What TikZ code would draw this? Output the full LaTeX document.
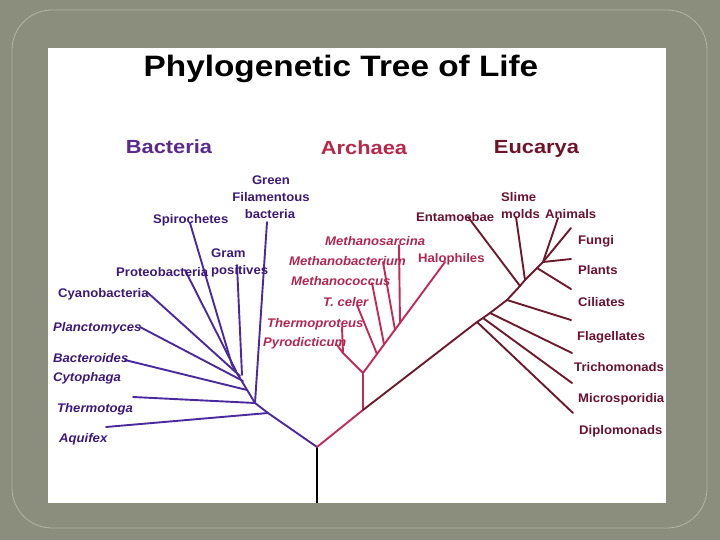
\documentclass[tikz,border=0pt]{standalone}
\usepackage{fontspec}
\setmainfont{Liberation Sans}
\newfontfamily\labfont{Liberation Sans}[FakeStretch=1.05]
\newfontfamily\headfont{Liberation Sans}[FakeStretch=1.15]
\newfontfamily\titfont{Liberation Sans}[FakeStretch=1.13]
\definecolor{bgc}{HTML}{8B8D7D}
\definecolor{framec}{HTML}{B4B6A4}
\definecolor{bact}{HTML}{3D1A78}
\definecolor{bacl}{HTML}{4A2A9E}
\definecolor{bach}{HTML}{5A2A8C}
\definecolor{arct}{HTML}{B02850}
\definecolor{arcl}{HTML}{C22A58}
\definecolor{arch}{HTML}{B8284A}
\definecolor{euct}{HTML}{6A1230}
\definecolor{eucl}{HTML}{6E1A2E}
\definecolor{euch}{HTML}{6E1428}
\tikzset{
  lab/.style={inner sep=0pt, text height=9pt, text depth=0pt, anchor=west, font=\labfont\fontsize{12.5}{14}\selectfont\bfseries},
  ilab/.style={lab, font=\labfont\fontsize{12.5}{14}\selectfont\bfseries\itshape},
  bactext/.style={text=bact}, arctext/.style={text=arct}, euctext/.style={text=euct},
  head/.style={inner sep=0pt, text height=13.6pt, text depth=0pt, font=\headfont\fontsize{19}{22}\selectfont\bfseries},
  bl/.style={draw=bacl, line width=1.9pt, line cap=round, line join=round},
  al/.style={draw=arcl, line width=1.9pt, line cap=round, line join=round},
  el/.style={draw=eucl, line width=1.9pt, line cap=round, line join=round},
}
\begin{document}
\begin{tikzpicture}[x=1pt,y=-1pt]
\useasboundingbox (0,0) rectangle (720,540);
\fill[bgc] (0,0) rectangle (720,540);
\draw[framec, line width=0.8pt, rounded corners=40pt] (12,10) rectangle (707,528);
\fill[white] (48,48) rectangle (666,503);

% title and headings
\node[inner sep=0pt, text height=21pt, text depth=0pt, font=\titfont\fontsize{29.5}{34}\selectfont\bfseries] (title) at (341,66) {Phylogenetic Tree of Life};
\node[head, text=bach] (hbac) at (169,146.5) {Bacteria};
\node[head, text=arch] (harc) at (364,148) {Archaea};
\node[head, text=euch] (heuc) at (536.5,146.5) {Eucarya};

% ---------- coordinates ----------
\coordinate (root) at (317,447);
\coordinate (bot) at (317,503);
% bacteria
\coordinate (B1) at (255,403);
\coordinate (BA) at (268,413);
\coordinate (Bt) at (232,365);
\coordinate (Bpr) at (236,371);
\coordinate (Bgp) at (242,375);
\coordinate (Bcy) at (240,376);
\coordinate (Bpl) at (243,381);
\coordinate (Bbc) at (247,390);
\coordinate (eaq) at (106,427);
\coordinate (eth) at (133,397);
\coordinate (egf) at (267,222);
\coordinate (esp) at (190,223);
\coordinate (epr) at (185,270);
\coordinate (egp) at (237,265);
\coordinate (ecy) at (147,292);
\coordinate (epl) at (140,327);
\coordinate (ebc) at (125,360);
% archaea
\coordinate (A1) at (363,410);
\coordinate (A2) at (363,373);
\coordinate (AP) at (343,353);
\coordinate (etp) at (342,327);
\coordinate (epy) at (337,345);
\coordinate (Atc) at (377,354);
\coordinate (Amc) at (384,344);
\coordinate (Amb) at (395,330);
\coordinate (Ams) at (400,323);
\coordinate (eha) at (445,262);
\coordinate (etc) at (357,305);
\coordinate (emc) at (372,283);
\coordinate (emb) at (383,262);
\coordinate (ems) at (399,245);
% eucarya
\coordinate (E0) at (477,322);
\coordinate (Emi) at (483,318);
\coordinate (Etr) at (490,313);
\coordinate (Efl) at (507,300);
\coordinate (Een) at (520,286);
\coordinate (Esl) at (525,280);
\coordinate (Eci) at (537,268);
\coordinate (Ean) at (543,262);
\coordinate (efu) at (571,228);
\coordinate (edi) at (573,413);
\coordinate (emi) at (572,383);
\coordinate (etr) at (572,353);
\coordinate (efl) at (571,320);
\coordinate (een) at (468,217);
\coordinate (esl) at (516,217);
\coordinate (eci) at (571,289);
\coordinate (ean) at (558,218);
\coordinate (epa) at (571,259);

% ---------- branches ----------
\draw[line width=1.9pt] (root) -- (bot);
\draw[bl] (root) -- (BA) -- (B1) -- (Bt) -- (esp);
\draw[bl] (BA) -- (eaq);
\draw[bl] (B1) -- (eth);
\draw[bl] (B1) -- (egf);
\draw[bl] (Bpr) -- (epr);
\draw[bl] (Bgp) -- (egp);
\draw[bl] (Bcy) -- (ecy);
\draw[bl] (Bpl) -- (epl);
\draw[bl] (Bbc) -- (ebc);

\draw[al] (root) -- (A1) -- (A2) -- (eha);
\draw[al] (A2) -- (AP) -- (etp);
\draw[al] (AP) -- (epy);
\draw[al] (Atc) -- (etc);
\draw[al] (Amc) -- (emc);
\draw[al] (Amb) -- (emb);
\draw[al] (Ams) -- (ems);

\draw[el] (A1) -- (E0) -- (Emi) -- (Etr) -- (Efl) -- (Een) -- (Esl) -- (Eci) -- (Ean) -- (efu);
\draw[el] (E0) -- (edi);
\draw[el] (Emi) -- (emi);
\draw[el] (Etr) -- (etr);
\draw[el] (Efl) -- (efl);
\draw[el] (Een) -- (een);
\draw[el] (Esl) -- (esl);
\draw[el] (Eci) -- (eci);
\draw[el] (Ean) -- (ean);
\draw[el] (Ean) -- (epa);

% ---------- labels: bacteria ----------
\node[lab,bactext,anchor=center] (lgreen) at (271,180) {Green};
\node[lab,bactext,anchor=center] (lfil) at (271,197) {Filamentous};
\node[lab,bactext,anchor=center] (lbac) at (270,214) {bacteria};
\node[lab,bactext] (lspi) at (153,219) {Spirochetes};
\node[lab,bactext] (lgram) at (211,253) {Gram};
\node[lab,bactext] (lpos) at (211,270) {positives};
\node[lab,bactext] (lpro) at (116,272) {Proteobacteria};
\node[lab,bactext] (lcya) at (58,293) {Cyanobacteria};
\node[ilab,bactext] (lpla) at (53,327) {Planctomyces};
\node[ilab,bactext] (lbcd) at (53,358) {Bacteroides};
\node[ilab,bactext] (lcyt) at (53,377) {Cytophaga};
\node[ilab,bactext] (lthe) at (57,408) {Thermotoga};
\node[ilab,bactext] (laqu) at (59,438) {Aquifex};
% archaea
\node[ilab,arctext] (lmsa) at (325,241) {Methanosarcina};
\node[ilab,arctext] (lmba) at (289,261) {Methanobacterium};
\node[lab,arctext] (lhal) at (418,258) {Halophiles};
\node[ilab,arctext] (lmco) at (291,281) {Methanococcus};
\node[ilab,arctext] (ltce) at (323,302) {T. celer};
\node[ilab,arctext] (ltpr) at (267,323) {Thermoproteus};
\node[ilab,arctext] (lpyr) at (263,342) {Pyrodicticum};
% eucarya
\node[lab,euctext] (lsli) at (501,197) {Slime};
\node[lab,euctext] (lmol) at (501,214) {molds};
\node[lab,euctext] (lent) at (416,217) {Entamoebae};
\node[lab,euctext] (lani) at (545,214) {Animals};
\node[lab,euctext] (lfun) at (578,240) {Fungi};
\node[lab,euctext] (lpla2) at (578,270) {Plants};
\node[lab,euctext] (lcil) at (578,302) {Ciliates};
\node[lab,euctext] (lfla) at (577,336) {Flagellates};
\node[lab,euctext] (ltri) at (574,367) {Trichomonads};
\node[lab,euctext] (lmic) at (578,398) {Microsporidia};
\node[lab,euctext] (ldip) at (579,430) {Diplomonads};
\end{tikzpicture}
\end{document}
